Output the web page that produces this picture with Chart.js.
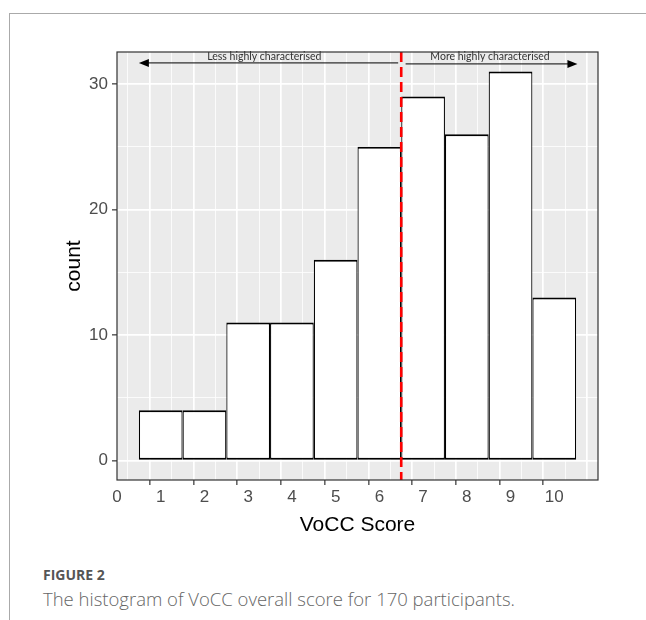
<!DOCTYPE html>
<html>
<head>
<meta charset="utf-8">
<script src="https://cdn.jsdelivr.net/npm/chart.js@4.4.1/dist/chart.umd.min.js"></script>
<style>
  body { margin: 0; background: #fff; }
  #wrap { position: relative; width: 646px; height: 620px; overflow: hidden; }
  #frameTop { position: absolute; left: 9px; top: 13px; width: 637px; border-top: 1px solid #aaa; }
  #frameLeft { position: absolute; left: 9px; top: 13px; height: 607px; border-left: 1px solid #aaa; }
  #grafico { position: absolute; left: 0; top: 0; }
  #figLabel { position: absolute; left: 43px; top: 565px; line-height: 20px; font: bold 14px "Open Sans", sans-serif; color: #555; }
  #legenda { position: absolute; left: 43px; top: 586px; line-height: 25px; font: 300 18.5px "Open Sans", sans-serif; color: #666; white-space: nowrap; }
</style>
</head>
<body>
<div id="wrap">
  <div id="frameTop"></div>
  <div id="frameLeft"></div>
  <canvas id="grafico" width="646" height="545"></canvas>
  <div id="figLabel">FIGURE 2</div>
  <div id="legenda">The histogram of VoCC overall score for 170 participants.</div>
</div>
<script>
const scores = [1, 2, 3, 4, 5, 6, 7, 8, 9, 10];
const counts = [4, 4, 11, 11, 16, 25, 29, 26, 31, 13];
const xTicks = [0, 1, 2, 3, 4, 5, 6, 7, 8, 9, 10];
const yTicks = [0, 10, 20, 30];

// anotações
const corte = 6.5;
const setaY = 31.68;
const setaEsq = [6.43, 0.5];   // de, até (ponta)
const setaDir = [6.6, 10.53];
const textoY = 32.17;
const rotulos = [
  { texto: "Less highly characterised", x: 3.37 },
  { texto: "More highly characterised", x: 8.53 },
];

const eixoFonte = '"Liberation Sans", Arial, sans-serif';

function valorTick(c) {
  return c && c.tick ? c.tick.value : null;
}

function desenharSeta(ctx, x1, x2, y) {
  const dir = x2 > x1 ? 1 : -1;
  ctx.beginPath();
  ctx.moveTo(x1, y);
  ctx.lineTo(x2 - dir * 6, y);
  ctx.stroke();
  ctx.beginPath();
  ctx.moveTo(x2, y);
  ctx.lineTo(x2 - dir * 10, y - 4);
  ctx.lineTo(x2 - dir * 10, y + 4);
  ctx.closePath();
  ctx.fill();
}

const fundoPainel = {
  id: "fundoPainel",
  beforeDraw(chart) {
    const { ctx, chartArea: a } = chart;
    ctx.save();
    ctx.fillStyle = "#ebebeb";
    ctx.fillRect(a.left, a.top, a.width, a.height);
    ctx.restore();
  },
};

const anotacoes = {
  id: "anotacoes",
  afterDatasetsDraw(chart) {
    const { ctx, chartArea: a, scales } = chart;
    const x = scales.x, y = scales.y;
    ctx.save();

    // linha de corte tracejada
    const cx = x.getPixelForValue(corte);
    ctx.strokeStyle = "#ff0000";
    ctx.lineWidth = 2.6;
    ctx.setLineDash([10, 5]);
    ctx.beginPath();
    ctx.moveTo(cx, a.top);
    ctx.lineTo(cx, a.bottom);
    ctx.stroke();
    ctx.setLineDash([]);

    // setas
    ctx.strokeStyle = "#000";
    ctx.fillStyle = "#000";
    ctx.lineWidth = 1;
    const py = y.getPixelForValue(setaY);
    desenharSeta(ctx, x.getPixelForValue(setaEsq[0]), x.getPixelForValue(setaEsq[1]), py);
    desenharSeta(ctx, x.getPixelForValue(setaDir[0]), x.getPixelForValue(setaDir[1]), py + 1);

    // textos
    ctx.fillStyle = "#333";
    ctx.font = '10.5px "Lato", "Open Sans", sans-serif';
    ctx.textAlign = "center";
    ctx.textBaseline = "middle";
    rotulos.forEach((r) => {
      ctx.fillText(r.texto, x.getPixelForValue(r.x), y.getPixelForValue(textoY));
    });

    // borda do painel
    ctx.strokeStyle = "#333";
    ctx.lineWidth = 1.2;
    ctx.strokeRect(a.left, a.top, a.width, a.height);
    ctx.restore();
  },
};

new Chart(document.getElementById("grafico").getContext("2d"), {
  type: "bar",
  data: {
    datasets: [
      {
        data: scores.map((s, i) => ({ x: s, y: counts[i] })),
        backgroundColor: "#ffffff",
        borderColor: "#000000",
        borderWidth: { top: 2, bottom: 2, left: 1.2, right: 1.2 },
        borderSkipped: false,
        // os ticks de 0.5 reduzem o intervalo mínimo pela metade
        barPercentage: 1,
        categoryPercentage: 2,
      },
    ],
  },
  options: {
    responsive: false,
    animation: false,
    devicePixelRatio: 1,
    layout: { padding: { left: 58, top: 52, right: 48, bottom: 0 } },
    plugins: { legend: { display: false }, tooltip: { enabled: false } },
    scales: {
      x: {
        type: "linear",
        min: 0,
        max: 11,
        offset: false,
        border: { display: false },
        grid: {
          color: "#ffffff",
          lineWidth: (c) => (Number.isInteger(valorTick(c)) ? 1.7 : 0.8),
          tickColor: (c) => (xTicks.includes(valorTick(c)) ? "#333333" : "rgba(0,0,0,0)"),
          tickLength: 5,
          tickWidth: 1.2,
        },
        ticks: {
          stepSize: 0.5,
          autoSkip: false,
          includeBounds: false,
          maxRotation: 0,
          padding: 2,
          color: "#4d4d4d",
          font: { family: eixoFonte, size: 17 },
          callback: (v) => (xTicks.includes(v) ? String(v) : ""),
        },
        title: {
          display: true,
          text: "VoCC Score",
          color: "#000",
          font: { family: eixoFonte, size: 21 },
          padding: { top: 2, bottom: 7 },
        },
        afterFit: (s) => { s.height = 65; },
      },
      y: {
        type: "linear",
        min: -1.55,
        max: 32.55,
        border: { display: false },
        grid: {
          color: "#ffffff",
          lineWidth: (c) => (yTicks.includes(valorTick(c)) ? 1.7 : 0.8),
          tickColor: (c) => (yTicks.includes(valorTick(c)) ? "#333333" : "rgba(0,0,0,0)"),
          tickLength: 5,
          tickWidth: 1.2,
        },
        ticks: {
          stepSize: 5,
          autoSkip: false,
          includeBounds: false,
          padding: 4,
          color: "#4d4d4d",
          font: { family: eixoFonte, size: 17 },
          callback: (v) => (yTicks.includes(v) ? String(v) : ""),
        },
        title: {
          display: true,
          text: "count",
          color: "#000",
          font: { family: eixoFonte, size: 21 },
          padding: { top: 4, bottom: 0 },
        },
        afterFit: (s) => { s.width = 59; },
      },
    },
  },
  plugins: [fundoPainel, anotacoes],
});
</script>
</body>
</html>
